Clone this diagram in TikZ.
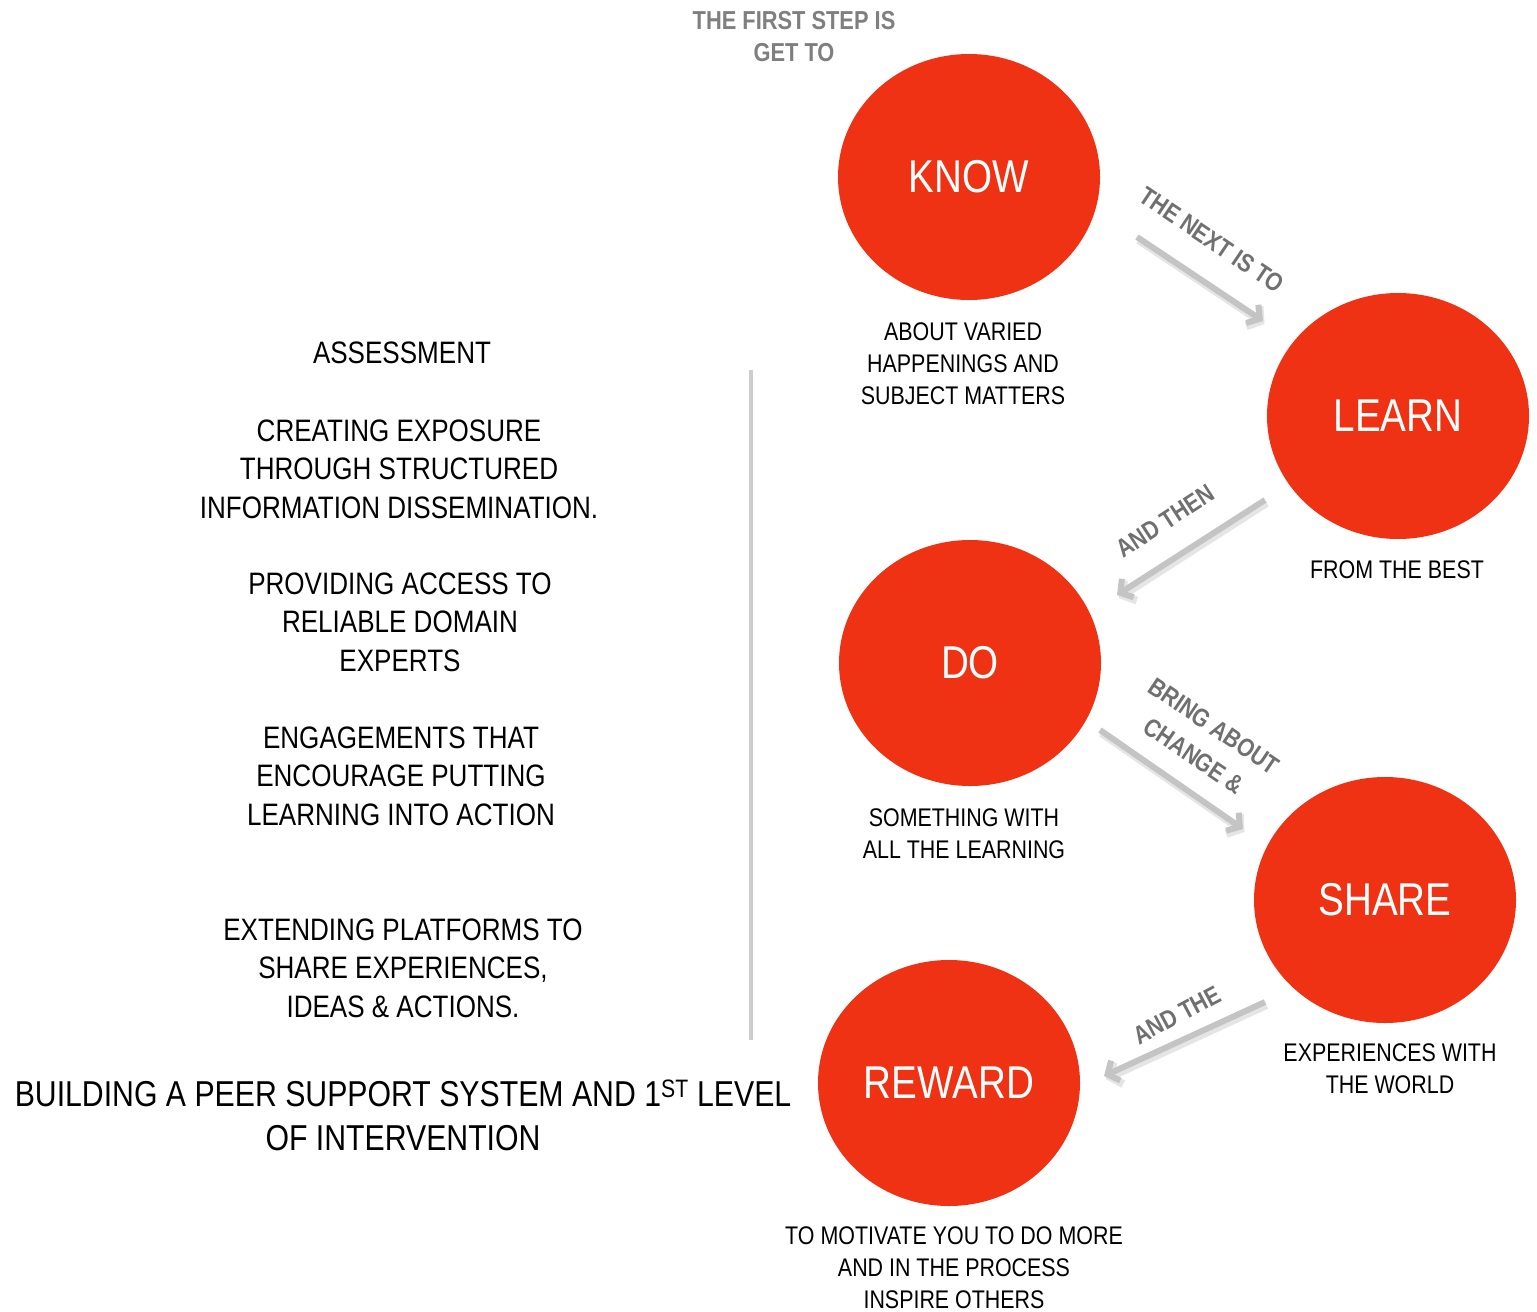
\documentclass[tikz,border=0pt]{standalone}
\usepackage{fontspec}
\setmainfont{Liberation Sans}[FakeStretch=0.84]
\usetikzlibrary{shapes.geometric,arrows.meta}
\definecolor{circred}{HTML}{F03214}
\definecolor{headgray}{HTML}{7F7F7F}
\definecolor{labgray}{HTML}{707070}
\definecolor{arrgray}{HTML}{C4C4C4}
\begin{document}
\begin{tikzpicture}[x=1pt,y=-1pt,
  stage/.style={ellipse,fill=circred,draw=none,minimum width=262pt,minimum height=246pt,
    text=white,font=\fontsize{46}{52}\selectfont,inner sep=0pt},
  desc/.style={align=center,font=\fontsize{25.5}{32}\selectfont,inner sep=0pt},
  side/.style={align=center,font=\fontsize{31}{38.5}\selectfont,inner sep=0pt},
  alabel/.style={align=center,text=labgray,font=\bfseries\fontsize{25.5}{36}\selectfont,inner sep=0pt},
  garrow/.style={draw=arrgray,line width=6pt,-{Straight Barb[length=9pt,width=22pt]}},
  gshadow/.style={draw=black,opacity=0.10,line width=8pt,-{Straight Barb[length=9pt,width=24pt]}}
]
\useasboundingbox (0,0) rectangle (1537,1312);

% circles
\node[stage] (know) at (969,177) {KNOW};
\node[stage] (learn) at (1398,416) {LEARN};
\node[stage] (do) at (970,663) {DO};
\node[stage] (share) at (1385,900) {SHARE};
\node[stage] (reward) at (949,1083) {REWARD};

% header
\node[align=center,text=headgray,font=\bfseries\fontsize{26}{32}\selectfont,inner sep=0pt] (head) at (794,37) {THE FIRST STEP IS\\GET TO};

% descriptions
\node[desc] (dknow) at (963,364) {ABOUT VARIED\\HAPPENINGS AND\\SUBJECT MATTERS};
\node[desc] (dlearn) at (1397,570) {FROM THE BEST};
\node[desc] (ddo) at (964,834) {SOMETHING WITH\\ALL THE LEARNING};
\node[desc] (dshare) at (1390,1069) {EXPERIENCES WITH\\THE WORLD};
\node[desc] (dreward) at (954,1268) {TO MOTIVATE YOU TO DO MORE\\AND IN THE PROCESS\\INSPIRE OTHERS};

% left column
\node[side] (s1) at (402,353) {ASSESSMENT};
\node[side] (s2) at (399,469) {CREATING EXPOSURE\\THROUGH STRUCTURED\\INFORMATION DISSEMINATION.};
\node[side] (s3) at (400,622) {PROVIDING ACCESS TO\\RELIABLE DOMAIN\\EXPERTS};
\node[side] (s4) at (401,776) {ENGAGEMENTS THAT\\ENCOURAGE PUTTING\\LEARNING INTO ACTION};
\node[side] (s5) at (403,968) {EXTENDING PLATFORMS TO\\SHARE EXPERIENCES,\\IDEAS \& ACTIONS.};
\node[align=center,font=\fontsize{36}{44}\selectfont,inner sep=0pt] (title) at (403,1115)
  {BUILDING A PEER SUPPORT SYSTEM AND 1\textsuperscript{ST} LEVEL\\OF INTERVENTION};

% vertical divider
\coordinate (vtop) at (751,370);
\coordinate (vbot) at (751,1040);
\draw[draw=arrgray!85,line width=4pt] (vtop) -- (vbot);

% arrows
\coordinate (a1s) at (1137,237); \coordinate (a1e) at (1263,321);
\coordinate (a2s) at (1265,500); \coordinate (a2e) at (1117,595);
\coordinate (a3s) at (1100,730); \coordinate (a3e) at (1243,829);
\coordinate (a4s) at (1265,1002); \coordinate (a4e) at (1104,1076);
\foreach \s/\e in {a1s/a1e,a2s/a2e,a3s/a3e,a4s/a4e}{
  \draw[gshadow,transform canvas={xshift=1.5pt,yshift=-3pt}] (\s) -- (\e);
  \draw[garrow] (\s) -- (\e);
}

% arrow labels
\node[alabel,rotate=-34] (l1) at (1212,240) {THE NEXT IS TO};
\node[alabel,rotate=33] (l2) at (1165,521) {AND THEN};
\node[alabel,rotate=-34] (l3) at (1204,741) {BRING ABOUT\\CHANGE \&};
\node[alabel,rotate=28] (l4) at (1177,1015) {AND THE};
\end{tikzpicture}
\end{document}
